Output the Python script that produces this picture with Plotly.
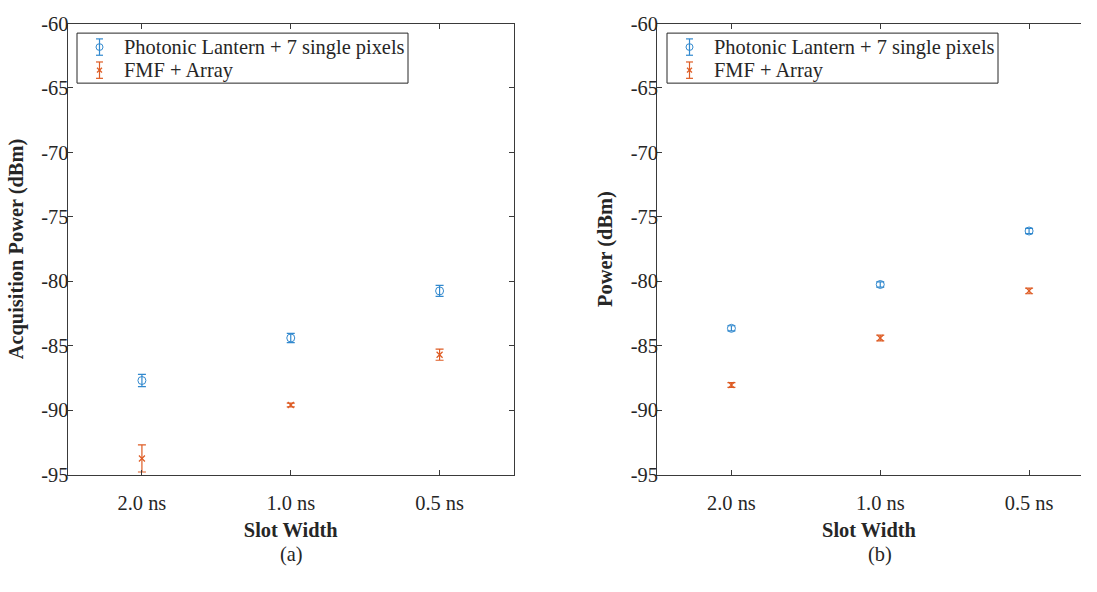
import plotly.graph_objects as go

# Slot widths on the x axis
slot_labels = ["2.0 ns", "1.0 ns", "0.5 ns"]
slot_pos = [1, 2, 3]

# (a) acquisition power, dBm
acq_lantern = [-87.7, -84.4, -80.75]
acq_lantern_err = [0.48, 0.36, 0.43]
acq_fmf = [-93.75, -89.6, -85.7]
acq_fmf_err = [1.05, 0.15, 0.43]

# (b) power, dBm
pow_lantern = [-83.65, -80.25, -76.1]
pow_lantern_err = [0.2, 0.2, 0.2]
pow_fmf = [-88.05, -84.4, -80.75]
pow_fmf_err = [0.18, 0.22, 0.22]

y_ticks = [-95, -90, -85, -80, -75, -70, -65, -60]
series_names = ["Photonic Lantern + 7 single pixels", "FMF + Array"]

BLUE = "#3289CE"
ORANGE = "#DE5C24"
AXIS = "#3a3a3a"
TEXT = "#262626"
FONT = "Liberation Serif"
FS = 20.4

W, H = 1081, 576


def px_x(p):
    """pixel x -> paper fraction"""
    return p / W


def px_y(p):
    """pixel y (from top) -> paper fraction"""
    return 1 - p / H


fig = go.Figure()

panels = [
    ("x", "y", acq_lantern, acq_lantern_err, acq_fmf, acq_fmf_err),
    ("x2", "y2", pow_lantern, pow_lantern_err, pow_fmf, pow_fmf_err),
]

for xa, ya, lant, lant_e, fmf, fmf_e in panels:
    fig.add_trace(go.Scatter(
        x=slot_pos, y=lant, mode="markers", name=series_names[0],
        xaxis=xa, yaxis=ya, showlegend=False,
        marker=dict(symbol="circle-open", size=8, color=BLUE, line=dict(width=1)),
        error_y=dict(type="data", array=lant_e, visible=True,
                     color=BLUE, thickness=1.2, width=4),
    ))
    fig.add_trace(go.Scatter(
        x=slot_pos, y=fmf, mode="markers", name=series_names[1],
        xaxis=xa, yaxis=ya, showlegend=False,
        marker=dict(symbol="x-thin-open", size=6, color=ORANGE,
                    line=dict(width=1.2, color=ORANGE)),
        error_y=dict(type="data", array=fmf_e, visible=True,
                     color=ORANGE, thickness=1.2, width=4),
    ))

# axis boxes in pixels
L1, R1 = 67.5, 514
L2 = 657
TOP, BOT = 13, 482
unit = (R1 - L1) / 3.0
r2_end = 0.5 + (W - L2) / unit

tick_font = dict(family=FONT, size=FS, color=TEXT)
title_font = dict(family=FONT, size=FS, color=TEXT)

common_x = dict(
    tickmode="array", tickvals=slot_pos, ticktext=slot_labels,
    ticks="inside", ticklen=5, tickcolor=AXIS, tickwidth=1,
    showline=True, linecolor=AXIS, linewidth=1, showgrid=False, zeroline=False,
    tickfont=tick_font, ticklabelstandoff=10,
    title=dict(text="<b>Slot Width</b>", font=title_font, standoff=9),
)
common_y = dict(
    range=[-95, -60], tickmode="array", tickvals=y_ticks,
    ticktext=[str(v) for v in y_ticks],
    ticks="inside", ticklen=5, tickcolor=AXIS, tickwidth=1,
    showline=True, linecolor=AXIS, linewidth=1, showgrid=False, zeroline=False,
    tickfont=tick_font, ticklabelstandoff=-6,
)

# legend boxes, drawn with shapes and text annotations so the entries
# show the error-bar glyph next to each marker
shapes = []
annotations = []
ROW_Y = [37.5, 61.5]
BAR_HALF = 8.5
CAP_HALF = 3.5
for box_left in (77, 667):
    box_right = box_left + 331
    shapes.append(dict(type="rect", xref="paper", yref="paper",
                       x0=px_x(box_left), x1=px_x(box_right),
                       y0=px_y(75), y1=px_y(23),
                       line=dict(color=TEXT, width=1), fillcolor="white", layer="above"))
    icon_x = box_left + 22.5
    for row_y, col in zip(ROW_Y, (BLUE, ORANGE)):
        # vertical bar with caps
        shapes.append(dict(type="line", xref="paper", yref="paper",
                           x0=px_x(icon_x), x1=px_x(icon_x),
                           y0=px_y(row_y - BAR_HALF), y1=px_y(row_y + BAR_HALF),
                           line=dict(color=col, width=1.2), layer="above"))
        for cy in (row_y - BAR_HALF, row_y + BAR_HALF):
            shapes.append(dict(type="line", xref="paper", yref="paper",
                               x0=px_x(icon_x - CAP_HALF), x1=px_x(icon_x + CAP_HALF),
                               y0=px_y(cy), y1=px_y(cy),
                               line=dict(color=col, width=1.2), layer="above"))
    # circle marker
    r = 3.5
    shapes.append(dict(type="circle", xref="paper", yref="paper",
                       x0=px_x(icon_x - r), x1=px_x(icon_x + r),
                       y0=px_y(ROW_Y[0] + r), y1=px_y(ROW_Y[0] - r),
                       line=dict(color=BLUE, width=1), fillcolor="rgba(0,0,0,0)", layer="above"))
    # cross marker
    c = 2.5
    for sgn in (1, -1):
        shapes.append(dict(type="line", xref="paper", yref="paper",
                           x0=px_x(icon_x - c), x1=px_x(icon_x + c),
                           y0=px_y(ROW_Y[1] - sgn * c), y1=px_y(ROW_Y[1] + sgn * c),
                           line=dict(color=ORANGE, width=1.2), layer="above"))
    for row_y, name in zip(ROW_Y, series_names):
        annotations.append(dict(text=name, x=px_x(box_left + 45), y=px_y(row_y),
                                xref="paper", yref="paper", xanchor="left", yanchor="middle",
                                showarrow=False, font=dict(family=FONT, size=FS, color=TEXT)))

annotations += [
    dict(text="(a)", x=px_x(291), y=px_y(565), xref="paper", yref="paper",
         xanchor="center", yanchor="middle", showarrow=False, font=title_font),
    dict(text="(b)", x=px_x(880), y=px_y(565), xref="paper", yref="paper",
         xanchor="center", yanchor="middle", showarrow=False, font=title_font),
]

fig.update_layout(
    width=W, height=H, margin=dict(l=0, r=0, t=0, b=0),
    paper_bgcolor="white", plot_bgcolor="white",
    font=dict(family=FONT, color=TEXT),
    showlegend=False,
    xaxis=dict(common_x, domain=[px_x(L1), px_x(R1)], range=[0.5, 3.5],
               mirror="allticks", anchor="y"),
    yaxis=dict(common_y, domain=[px_y(BOT), px_y(TOP)], mirror="allticks", anchor="x",
               title=dict(text="<b>Acquisition Power (dBm)</b>", font=title_font, standoff=12)),
    xaxis2=dict(common_x, domain=[px_x(L2), 1.0], range=[0.5, r2_end],
                mirror="allticks", anchor="y2"),
    yaxis2=dict(common_y, domain=[px_y(BOT), px_y(TOP)], mirror=False, anchor="x2",
                title=dict(text="<b>Power (dBm)</b>", font=title_font, standoff=12)),
    shapes=shapes,
    annotations=annotations,
)

fig.write_html("out.html")
